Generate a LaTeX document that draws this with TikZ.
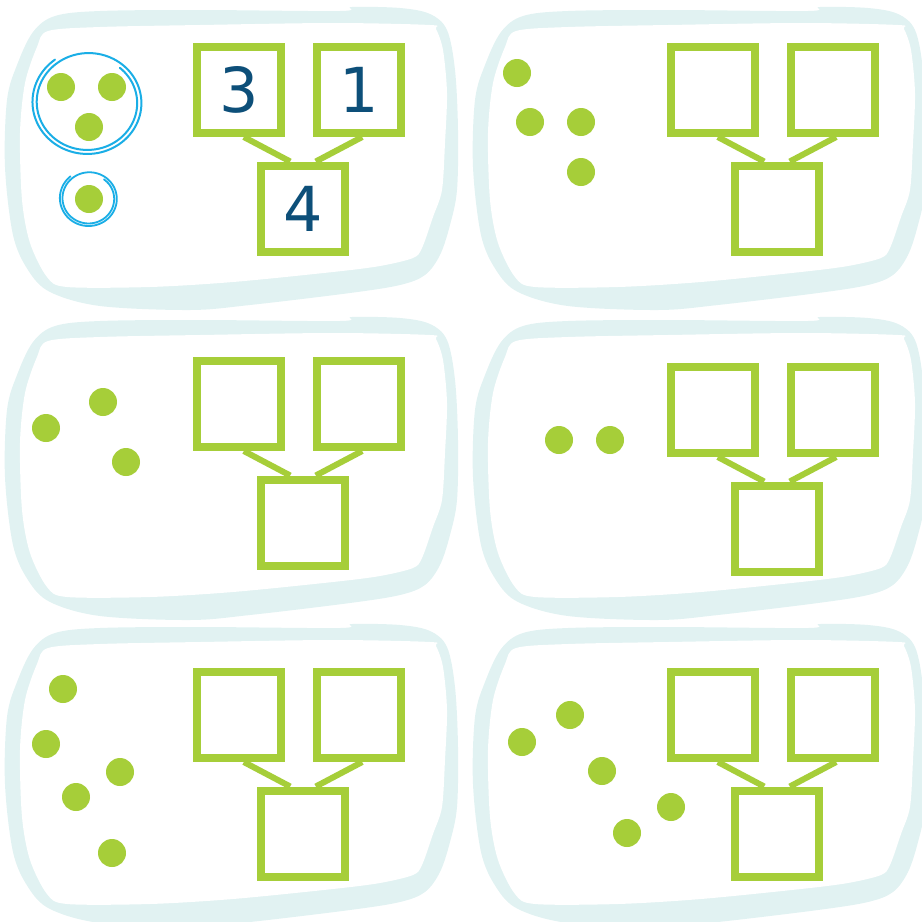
\documentclass[tikz,border=0pt]{standalone}
\usepackage{fontspec}
\newfontfamily\digitfont{DejaVu Sans}
\definecolor{blobc}{HTML}{E1F2F2}
\definecolor{boxc}{HTML}{A6CE39}
\definecolor{dotc}{HTML}{A6CE39}
\definecolor{numc}{HTML}{0D4F79}
\definecolor{loopc}{HTML}{1AAEE6}
\newcommand{\myblob}[2]{%
  \begin{scope}[shift={(#1,#2)}]
    \fill[blobc] plot[smooth cycle, tension=0.55] coordinates {(5,167) (7,100) (17,65) (33,32) (55,16) (100,11) (200,10) (340,11) (352,7) (400,8) (430,14) (447,30) (455,70) (458,130) (457,190) (450,225) (440,255) (425,275) (400,285) (350,293) (250,305) (190,310) (100,306) (50,292) (28,270) (13,235)};
    \fill[white] plot[smooth cycle, tension=0.5] coordinates {(48,31) (100,27) (200,25) (333,23) (430,25) (436,29) (443,50) (447,93) (445,143) (442,190) (433,217) (422,248) (413,258) (380,266) (333,272) (233,282) (150,287) (67,287) (47,277) (30,243) (22,200) (20,133) (25,83) (37,47)};
  \end{scope}}
\newcommand{\numbond}[6]{%
  \node[bondbox] (#1a) at ({#2+46},{#3+47}) {#4};
  \node[bondbox] (#1b) at ({#2+166},{#3+47}) {#5};
  \node[bondbox] (#1c) at ({#2+110},{#3+165.5}) {#6};
  \draw[bondline] ([xshift=2.4pt]#1a.south) -- ([xshift=-6.4pt]#1c.north);
  \draw[bondline] ([xshift=1.6pt]#1b.south) -- ([xshift=6.4pt]#1c.north);}
\begin{document}
\begin{tikzpicture}[x=0.5pt,y=-0.5pt,
  bondbox/.style={draw=boxc, line width=4pt, fill=white, minimum width=42pt, minimum height=43pt, inner sep=0pt, text=numc, font=\digitfont\fontsize{31}{31}\selectfont},
  bondline/.style={draw=boxc, line width=3pt},
  dot/.style={circle, fill=dotc, minimum size=14pt, inner sep=0pt},
  loopline/.style={draw=loopc, line width=1pt, line cap=round}]
\useasboundingbox (0,0) rectangle (922,922);
\clip (0,0) rectangle (922,922);
% blobs
\myblob{0}{0}
\myblob{468}{0}
\myblob{0}{310}
\myblob{468}{310}
\myblob{0}{617}
\myblob{468}{617}
% panel 1 dots
\node[dot] (p1d1) at (61,87) {};
\node[dot] (p1d2) at (112,87) {};
\node[dot] (p1d3) at (89,127) {};
\node[dot] (p1d4) at (89,199) {};
\draw[loopline] plot[domain=311:954, samples=180, smooth, variable=\t]
  ({88+54*(0.9+0.14*(\t-311)/643)*cos(\t)}, {102.5+51*(0.9+0.14*(\t-311)/643)*sin(\t)});
\draw[loopline, line width=0.9pt] plot[domain=307:951, samples=150, smooth, variable=\t]
  ({89+29.5*(0.84+0.16*(\t-307)/644)*cos(\t)}, {198.5+28.5*(0.84+0.16*(\t-307)/644)*sin(\t)});
% panel 2 dots
\node[dot] (p2d1) at (517,73) {};
\node[dot] (p2d2) at (530,122) {};
\node[dot] (p2d3) at (581,122) {};
\node[dot] (p2d4) at (581,172) {};
% panel 3 dots
\node[dot] (p3d1) at (46,428) {};
\node[dot] (p3d2) at (103,402) {};
\node[dot] (p3d3) at (126,462) {};
% panel 4 dots
\node[dot] (p4d1) at (559,440) {};
\node[dot] (p4d2) at (610,440) {};
% panel 5 dots
\node[dot] (p5d1) at (63,689) {};
\node[dot] (p5d2) at (46,744) {};
\node[dot] (p5d3) at (120,772) {};
\node[dot] (p5d4) at (76,797) {};
\node[dot] (p5d5) at (112,853) {};
% panel 6 dots
\node[dot] (p6d1) at (522,742) {};
\node[dot] (p6d2) at (570,715) {};
\node[dot] (p6d3) at (602,771) {};
\node[dot] (p6d4) at (671,807) {};
\node[dot] (p6d5) at (627,833) {};
% number bonds
\numbond{ga}{193}{43}{3}{1}{4}
\numbond{gb}{667}{43}{}{}{}
\numbond{gc}{193}{357}{}{}{}
\numbond{gd}{667}{363}{}{}{}
\numbond{ge}{193}{668}{}{}{}
\numbond{gf}{667}{668}{}{}{}
\end{tikzpicture}
\end{document}
